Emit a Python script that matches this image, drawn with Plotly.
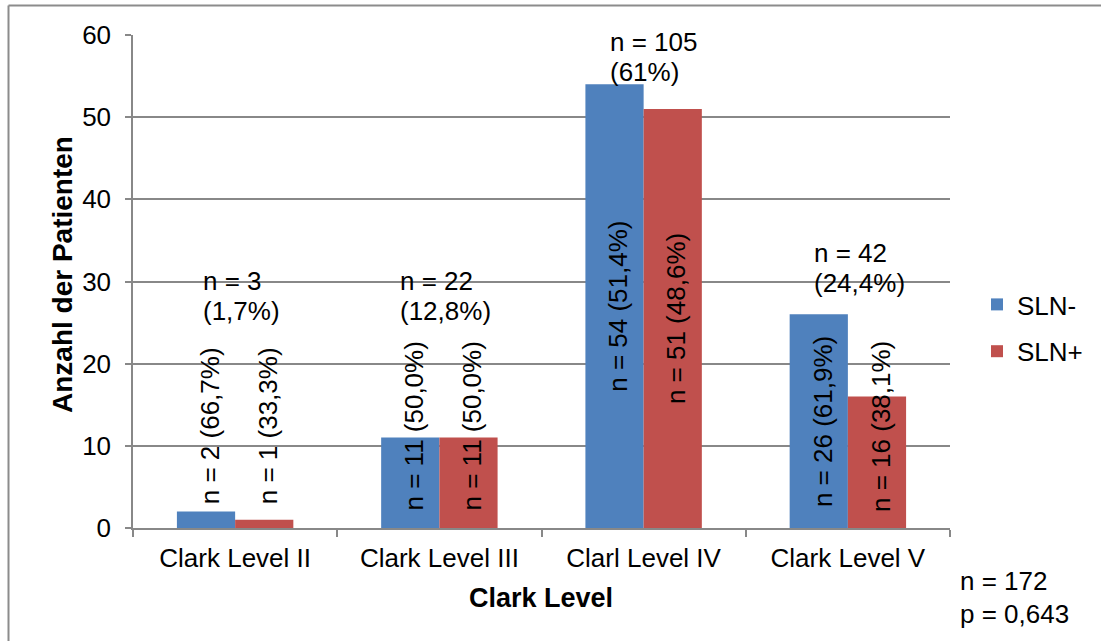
import plotly.graph_objects as go

# Clark level groups and patient counts by sentinel lymph node status
categories = ["Clark Level II", "Clark Level III", "Clarl Level IV", "Clark Level V"]
sln_neg = [2, 11, 54, 26]
sln_pos = [1, 11, 51, 16]

neg_labels = ["n = 2 (66,7%)", "n = 11 (50,0%)", "n = 54 (51,4%)", "n = 26 (61,9%)"]
pos_labels = ["n = 1 (33,3%)", "n = 11 (50,0%)", "n = 51 (48,6%)", "n = 16 (38,1%)"]
total_labels = [("n = 3", "(1,7%)"), ("n = 22", "(12,8%)"),
                ("n = 105", "(61%)"), ("n = 42", "(24,4%)")]

y_ticks = [0, 10, 20, 30, 40, 50, 60]
footnote = ["n = 172", "p = 0,643"]

# vertical placement of the second line of each group total label (axis units)
total_label_line2 = [26.4, 26.4, 55.5, 29.8]
total_label_dx = [-34, -41, -36, -36]
# rotated bar labels are kept clear of the baseline for short bars
min_label_center = 12.4

FONT = "Liberation Sans, Arial, sans-serif"
FS = 26
BLUE = "#4F81BD"
RED = "#C0504D"
GRID = "#888888"
LINE_GAP = 30

W, H = 1101, 641
ML, MR, MT, MB = 133, 151, 35, 113
PW, PH = W - ML - MR, H - MT - MB


def px_x(p):
    return (p - ML) / PW


def px_y(p):
    return (H - MB - p) / PH


fig = go.Figure()
fig.add_trace(go.Bar(x=categories, y=sln_neg, name="SLN-", marker_color=BLUE,
                     marker_line_width=0, legendgroup="a"))
fig.add_trace(go.Bar(x=categories, y=sln_pos, name="SLN+", marker_color=RED,
                     marker_line_width=0, legendgroup="b"))

txt = dict(family=FONT, size=FS, color="black")
annotations = []
for i, cat in enumerate(categories):
    for vals, labels, shift in ((sln_neg, neg_labels, -25), (sln_pos, pos_labels, 33)):
        annotations.append(dict(
            x=cat, y=max(vals[i] / 2, min_label_center), xref="x", yref="y",
            text=labels[i], textangle=-90, showarrow=False,
            xanchor="center", yanchor="middle", xshift=shift, font=txt,
        ))
    for k, line in enumerate(total_labels[i]):
        annotations.append(dict(
            x=cat, y=total_label_line2[i], xref="x", yref="y",
            text=line, showarrow=False, align="left",
            xanchor="left", yanchor="middle", xshift=total_label_dx[i],
            yshift=LINE_GAP * (1 - k), font=txt,
        ))

# axis titles
annotations.append(dict(
    x=px_x(541), y=px_y(598), xref="paper", yref="paper",
    text="<b>Clark Level</b>", showarrow=False, xanchor="center", yanchor="middle",
    font=dict(family=FONT, size=27, color="black"),
))
annotations.append(dict(
    x=px_x(62), y=px_y(275), xref="paper", yref="paper",
    text="<b>Anzahl der Patienten</b>", textangle=-90, showarrow=False,
    xanchor="center", yanchor="middle",
    font=dict(family=FONT, size=28, color="black"),
))
# sample size and p-value note
for k, line in enumerate(footnote):
    annotations.append(dict(
        x=px_x(958), y=px_y(581 + 33 * k), xref="paper", yref="paper",
        text=line, showarrow=False, align="left",
        xanchor="left", yanchor="middle", font=txt,
    ))

# chart-area frame: top and left edges (the others run off the page)
frame = dict(color="#8c8c8c", width=2)
shapes = [
    dict(type="line", xref="paper", yref="paper",
         x0=px_x(8.5), x1=px_x(W + 30), y0=px_y(5.5), y1=px_y(5.5),
         line=frame, layer="below"),
    dict(type="line", xref="paper", yref="paper",
         x0=px_x(8.5), x1=px_x(8.5), y0=px_y(5.5), y1=px_y(H + 30),
         line=frame, layer="below"),
]

fig.update_layout(
    width=W, height=H,
    margin=dict(l=ML, r=MR, t=MT, b=MB, pad=0),
    paper_bgcolor="white", plot_bgcolor="white",
    barmode="group", bargap=0.43, bargroupgap=0,
    font=txt,
    showlegend=True,
    legend=dict(
        x=px_x(977), y=px_y(281), xanchor="left", yanchor="top",
        font=txt, bgcolor="rgba(0,0,0,0)", tracegroupgap=10, itemwidth=30,
    ),
    annotations=annotations,
    shapes=shapes,
)

fig.update_xaxes(
    showgrid=False, showline=True, linecolor=GRID, linewidth=1.5,
    ticks="outside", tickson="boundaries", ticklen=7, tickcolor=GRID, tickwidth=1.5,
    tickfont=txt, ticklabelstandoff=6, zeroline=False,
)
fig.update_yaxes(
    range=[0, 60], tickvals=y_ticks, ticktext=[str(v) for v in y_ticks],
    showgrid=True, gridcolor=GRID, gridwidth=1.5,
    showline=True, linecolor=GRID, linewidth=1.5,
    ticks="outside", ticklen=6, tickcolor=GRID, tickwidth=1.5,
    tickfont=txt, ticklabelstandoff=9, zeroline=False,
)

fig.write_html("out.html")
